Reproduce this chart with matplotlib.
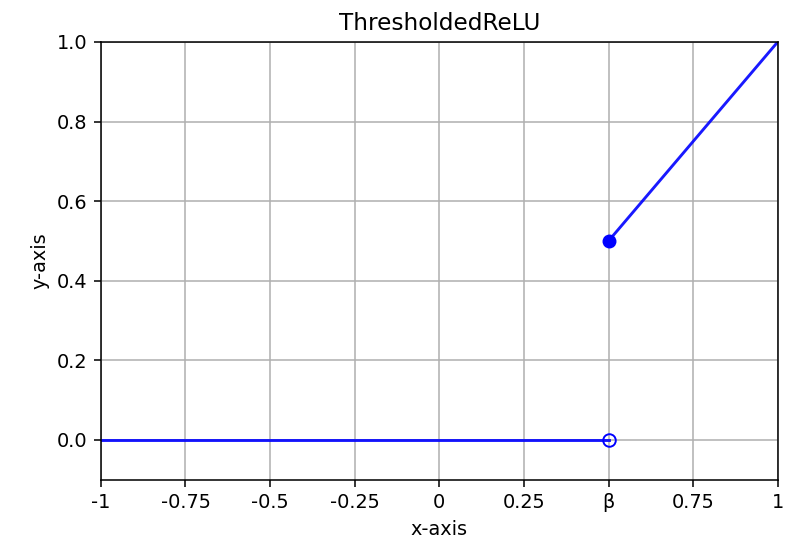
import numpy as np
import matplotlib.pyplot as plt

plt.rcParams['font.family'] = ['DejaVu Sans']
s = 1.39  # scale of the original rendering

beta = 0.5
x_left = [-1, 0.5]
y_left = [0, 0]
x_right = [0.5, 1]
y_right = [0.5, 1]

xticks = [-1, -0.75, -0.5, -0.25, 0, 0.25, 0.5, 0.75, 1]
xtick_labels = ['-1', '-0.75', '-0.5', '-0.25', '0', '0.25', 'β', '0.75', '1']
yticks = [0.0, 0.2, 0.4, 0.6, 0.8, 1.0]

fig = plt.figure(figsize=(7.88, 5.44), dpi=100)
ax = fig.add_axes([0.128, 0.118, 0.859, 0.805])

ax.plot(x_left, y_left, color='blue', lw=1.5 * s, alpha=0.9)
ax.plot(x_right, y_right, color='blue', lw=1.5 * s, alpha=0.9)
ax.plot([beta], [0], 'o', mfc='none', mec='blue', ms=6.5 * s / 1.39 * 1.39, mew=1.0 * s)
ax.plot([beta], [0.5], 'o', color='blue', ms=6.5 * s)

ax.set_xlim(-1, 1)
ax.set_ylim(-0.1, 1.0)
ax.set_xticks(xticks)
ax.set_xticklabels(xtick_labels)
ax.set_yticks(yticks)
ax.set_yticklabels(['%.1f' % v for v in yticks])
ax.tick_params(labelsize=10 * s, length=3.5 * s, width=0.8 * s, pad=3.5 * s)
for sp in ax.spines.values():
    sp.set_linewidth(0.8 * s)
ax.grid(True, color='#b0b0b0', lw=0.8 * s)
ax.set_axisbelow(True)
ax.set_title('ThresholdedReLU', fontsize=12 * s, pad=6 * s)
ax.set_xlabel('x-axis', fontsize=10 * s, labelpad=4 * s)
ax.set_ylabel('y-axis', fontsize=10 * s, labelpad=4 * s)

fig.savefig('out.png')
